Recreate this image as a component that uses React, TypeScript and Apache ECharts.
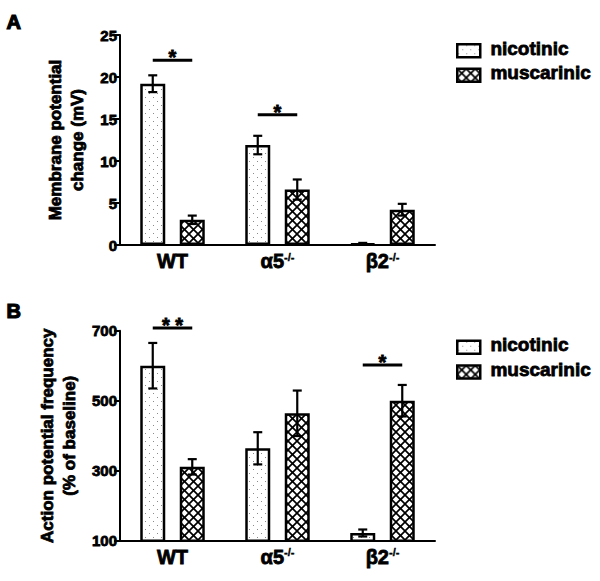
import React, { useEffect, useRef } from "react";
import * as echarts from "echarts";

const categories = ["WT", "α5", "β2"];
const catSup = ["", "-/-", "-/-"];

// Panel A: membrane potential change (mV)
const nicA = [19.2, 11.9, 0.15];
const nicAErr = [1.0, 1.1, 0.1];
const musA = [3.0, 6.6, 4.2];
const musAErr = [0.5, 1.2, 0.7];

// Panel B: action potential frequency (% of baseline)
const nicB = [600, 364, 122];
const nicBErr = [65, 46, 10];
const musB = [311, 464, 500];
const musBErr = [22, 65, 45];

const yTicksA = [0, 25, 5];
const yTicksB = [100, 700, 200];

// significance: [categoryIndex, yValue, label]
const sigA: [number, number, string][] = [
  [0, 22, "*"],
  [1, 15.5, "*"],
];
const sigB: [number, number, string][] = [
  [0, 708, "* *"],
  [2, 602, "*"],
];

const seriesNames = ["nicotinic", "muscarinic"];

const FONT = "Liberation Sans, Arial, sans-serif";
const BAR_W = 25;
const GAP = 0.58;
const OFF = (BAR_W + BAR_W * GAP) / 2;
const EMB = 0.8; // text emboldening stroke

function makeDots() {
  const c = document.createElement("canvas");
  c.width = 8;
  c.height = 8;
  const ctx = c.getContext("2d")!;
  ctx.fillStyle = "#fff";
  ctx.fillRect(0, 0, 8, 8);
  ctx.fillStyle = "#8a8a8a";
  ctx.fillRect(1, 1, 1, 1);
  ctx.fillRect(5, 5, 1, 1);
  return c;
}

function makeHatch() {
  const s = 9;
  const c = document.createElement("canvas");
  c.width = s;
  c.height = s;
  const ctx = c.getContext("2d")!;
  ctx.fillStyle = "#fff";
  ctx.fillRect(0, 0, s, s);
  ctx.strokeStyle = "#000";
  ctx.lineWidth = 1.7;
  for (let k = -1; k <= 1; k++) {
    ctx.beginPath();
    ctx.moveTo(k * s, 0);
    ctx.lineTo(k * s + s, s);
    ctx.stroke();
    ctx.beginPath();
    ctx.moveTo(k * s + s, 0);
    ctx.lineTo(k * s, s);
    ctx.stroke();
  }
  return c;
}

export default function App() {
  const ref = useRef<HTMLDivElement>(null);

  useEffect(() => {
    if (!ref.current) return;
    const chart = echarts.init(ref.current, undefined, { renderer: "svg" });
    const dots = { image: makeDots(), repeat: "repeat" } as any;
    const hatch = { image: makeHatch(), repeat: "repeat" } as any;
    const fills = [dots, hatch];

    const boldText = {
      fontWeight: "bold",
      color: "#000",
      fontFamily: FONT,
      textBorderColor: "#000",
      textBorderWidth: EMB,
    };

    const xAxis = [0, 1].map((g) => ({
      type: "category",
      gridIndex: g,
      data: categories,
      axisLine: { lineStyle: { color: "#000", width: 2 } },
      axisTick: { show: false },
      axisLabel: {
        margin: 6,
        formatter: (v: string, i: number) =>
          `{m|${v}}` + (catSup[i] ? `{s|${catSup[i]}}` : ""),
        rich: {
          m: { ...boldText, fontSize: 20 },
          s: { ...boldText, fontSize: 11, textBorderWidth: 0.4, verticalAlign: "top" },
        },
      },
    }));

    const yBase = {
      type: "value",
      splitLine: { show: false },
      axisLine: { show: true, lineStyle: { color: "#000", width: 2 } },
      axisTick: { show: true, length: 6, lineStyle: { color: "#000", width: 2 } },
      axisLabel: { ...boldText, margin: 3, fontSize: 15 },
      nameLocation: "middle",
      nameRotate: 90,
      nameGap: 32,
      nameTextStyle: { ...boldText, fontSize: 17, lineHeight: 22 },
    };

    const yAxis = [
      {
        ...yBase,
        gridIndex: 0,
        min: yTicksA[0],
        max: yTicksA[1],
        interval: yTicksA[2],
        name: "Membrane potential\nchange (mV)",
      },
      {
        ...yBase,
        gridIndex: 1,
        min: yTicksB[0],
        max: yTicksB[1],
        interval: yTicksB[2],
        name: "Action potential frequency\n(% of baseline)",
      },
    ];

    const barSeries = (g: number, k: number, vals: number[]) => ({
      type: "bar",
      name: seriesNames[k],
      xAxisIndex: g,
      yAxisIndex: g,
      data: vals,
      barWidth: BAR_W,
      barGap: GAP * 100 + "%",
      itemStyle: { color: fills[k], borderColor: "#000", borderWidth: 2.5 },
      z: 2,
    });

    const errSeries = (g: number, k: number, vals: number[], errs: number[]) => ({
      type: "custom",
      xAxisIndex: g,
      yAxisIndex: g,
      z: 5,
      clip: false,
      data: vals.map((v, i) => [i, v, errs[i]]),
      renderItem: (params: any, api: any) => {
        const i = api.value(0);
        const v = api.value(1);
        const e = api.value(2);
        const dx = k === 0 ? -OFF : OFF;
        const top = api.coord([i, v + e]);
        const bot = api.coord([i, v - e]);
        const x = top[0] + dx;
        const st = { stroke: "#000", lineWidth: 2.2 };
        return {
          type: "group",
          children: [
            { type: "line", shape: { x1: x, y1: top[1], x2: x, y2: bot[1] }, style: st },
            { type: "line", shape: { x1: x - 4.5, y1: top[1], x2: x + 4.5, y2: top[1] }, style: st },
            { type: "line", shape: { x1: x - 4.5, y1: bot[1], x2: x + 4.5, y2: bot[1] }, style: st },
          ],
        };
      },
    });

    const sigSeries = (g: number, sig: [number, number, string][]) => ({
      type: "custom",
      xAxisIndex: g,
      yAxisIndex: g,
      z: 6,
      clip: false,
      data: sig.map((s) => [s[0], s[1]]),
      renderItem: (params: any, api: any) => {
        const p = api.coord([api.value(0), api.value(1)]);
        const label = sig[params.dataIndex][2];
        return {
          type: "group",
          children: [
            {
              type: "line",
              shape: { x1: p[0] - OFF, y1: p[1], x2: p[0] + OFF, y2: p[1] },
              style: { stroke: "#000", lineWidth: 3 },
            },
            {
              type: "text",
              style: {
                text: label,
                x: p[0],
                y: p[1] - 3,
                textAlign: "center",
                textVerticalAlign: "middle",
                font: `bold 20px ${FONT}`,
                fill: "#000",
                stroke: "#000",
                lineWidth: EMB,
              },
            },
          ],
        };
      },
    });

    const legendGraphic = (y1: number, y2: number) =>
      [y1, y2].flatMap((y, k) => [
        {
          type: "rect",
          left: 456,
          top: y - 6.5,
          shape: { width: 23, height: 13 },
          style: { fill: fills[k], stroke: "#000", lineWidth: 2.5 },
        },
        {
          type: "text",
          left: 490,
          top: y - 11,
          style: {
            text: seriesNames[k],
            font: `bold 19px ${FONT}`,
            fill: "#000",
            stroke: "#000",
            lineWidth: EMB,
          },
        },
      ]);

    const option: any = {
      animation: false,
      textStyle: { fontFamily: FONT },
      grid: [
        { left: 120, top: 35, width: 315, height: 210 },
        { left: 120, top: 330.7, width: 315, height: 210 },
      ],
      xAxis,
      yAxis,
      series: [
        barSeries(0, 0, nicA),
        barSeries(0, 1, musA),
        errSeries(0, 0, nicA, nicAErr),
        errSeries(0, 1, musA, musAErr),
        sigSeries(0, sigA),
        barSeries(1, 0, nicB),
        barSeries(1, 1, musB),
        errSeries(1, 0, nicB, nicBErr),
        errSeries(1, 1, musB, musBErr),
        sigSeries(1, sigB),
      ],
      graphic: [
        {
          type: "text",
          left: 6,
          top: 11,
          style: { text: "A", font: `900 20px ${FONT}`, fill: "#000", stroke: "#000", lineWidth: 1.2 },
        },
        {
          type: "text",
          left: 6,
          top: 300,
          style: { text: "B", font: `900 20px ${FONT}`, fill: "#000", stroke: "#000", lineWidth: 1.2 },
        },
        ...legendGraphic(49.5, 74),
        ...legendGraphic(346, 370.7),
      ],
    };
    chart.setOption(option);
    return () => chart.dispose();
  }, []);

  return (
    <div
      ref={ref}
      style={{ position: "fixed", left: 0, top: 0, width: 600, height: 581, background: "#fff" }}
    />
  );
}
